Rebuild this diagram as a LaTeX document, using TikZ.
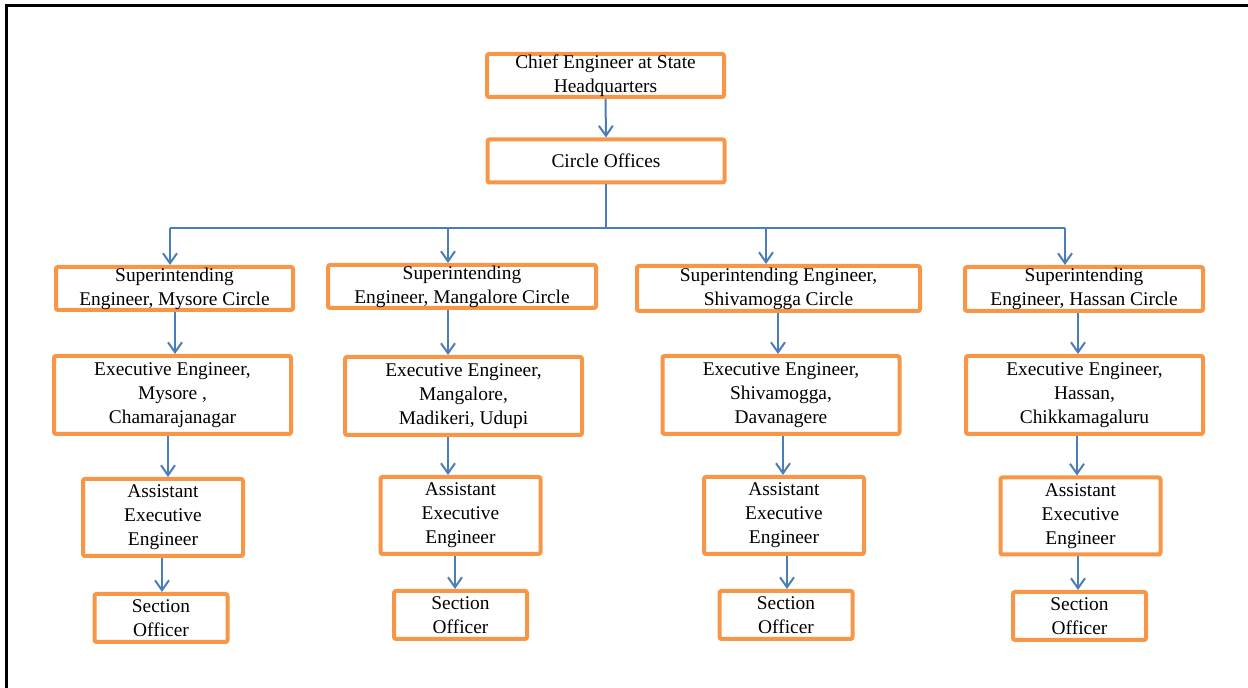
\documentclass[tikz,border=0pt]{standalone}
\usepackage{fontspec}
\setmainfont{Liberation Serif}
\usetikzlibrary{arrows.meta}

\definecolor{boxorange}{HTML}{F79646}
\definecolor{linkblue}{HTML}{4A7EBB}

\begin{document}
\begin{tikzpicture}[x=0.5pt, y=-0.5pt,
		box/.style={draw=boxorange, line width=2pt, fill=white, rounded corners=1pt, align=center, inner sep=0pt, font=\fontsize{9.7}{12}\selectfont},
		head/.style={box, minimum width=118.5pt, minimum height=21.5pt},
		sup/.style={box, minimum width=118.5pt, minimum height=21.5pt},
		exe/.style={box, minimum width=118.5pt, minimum height=39pt},
		asst/.style={box, minimum width=80pt, minimum height=38.5pt},
		sec/.style={box, minimum width=66.5pt, minimum height=24pt},
		wire/.style={draw=linkblue, line width=1pt},
		link/.style={wire, -{Straight Barb[length=5pt, width=7pt]}},
	]
		\useasboundingbox (0,0) rectangle (1248,688);
		\clip (0,0) rectangle (1248,688);
		\draw[line width=1.5pt] (6,700) -- (6,6) -- (1260,6);

		\node (chief) [head] at (605.5,75.5) {Chief Engineer at State\\Headquarters};
		\node (circ) [head] at (606,161) {Circle Offices};

		\node (se1) [sup] at (174.5,288.5) {Superintending\\Engineer, Mysore Circle};
		\node (se2) [sup, minimum width=134pt] at (462,286.5) {Superintending\\Engineer, Mangalore Circle};
		\node (se3) [sup, minimum width=141.5pt, minimum height=22.5pt] at (778.5,288.5) {Superintending Engineer,\\Shivamogga Circle};
		\node (se4) [sup, minimum width=119pt, minimum height=22pt] at (1084,289) {Superintending\\Engineer, Hassan Circle};

		\node (ee1) [exe] at (172.5,395) {Executive Engineer,\\Mysore ,\\Chamarajanagar};
		\node (ee2) [exe] at (463.5,396) {Executive Engineer,\\Mangalore,\\Madikeri, Udupi};
		\node (ee3) [exe] at (781,395) {Executive Engineer,\\Shivamogga,\\Davanagere};
		\node (ee4) [exe] at (1084.5,395) {Executive Engineer,\\Hassan,\\Chikkamagaluru};

		\node (aee1) [asst] at (163,517.5) {Assistant\\Executive\\Engineer};
		\node (aee2) [asst] at (460.5,515.5) {Assistant\\Executive\\Engineer};
		\node (aee3) [asst] at (784,515.5) {Assistant\\Executive\\Engineer};
		\node (aee4) [asst] at (1080.5,516) {Assistant\\Executive\\Engineer};

		\node (so1) [sec] at (161,618) {Section\\Officer};
		\node (so2) [sec] at (460.5,615) {Section\\Officer};
		\node (so3) [sec] at (786,615) {Section\\Officer};
		\node (so4) [sec] at (1079.5,616) {Section\\Officer};

		% bus from the circle offices
		\coordinate (busl) at (170,228);
		\coordinate (busr) at (1065,228);
		\draw[link] (chief.south) -- (circ.north);
		\draw[wire] (circ.south) -- (circ.south |- busl);
		\draw[wire] (busl) -- (busr);

		\foreach \i/\xa/\xb/\xc/\xd in {1/170/175/168/162, 2/448/448/448/455, 3/766/778/783/787, 4/1065/1078/1077/1078} {
			\draw[link] (\xa,0 |- busl) -- (\xa,0 |- se\i.north);
			\draw[link] (\xb,0 |- se\i.south) -- (\xb,0 |- ee\i.north);
			\draw[link] (\xc,0 |- ee\i.south) -- (\xc,0 |- aee\i.north);
			\draw[link] (\xd,0 |- aee\i.south) -- (\xd,0 |- so\i.north);
		}
	\end{tikzpicture}
\end{document}
